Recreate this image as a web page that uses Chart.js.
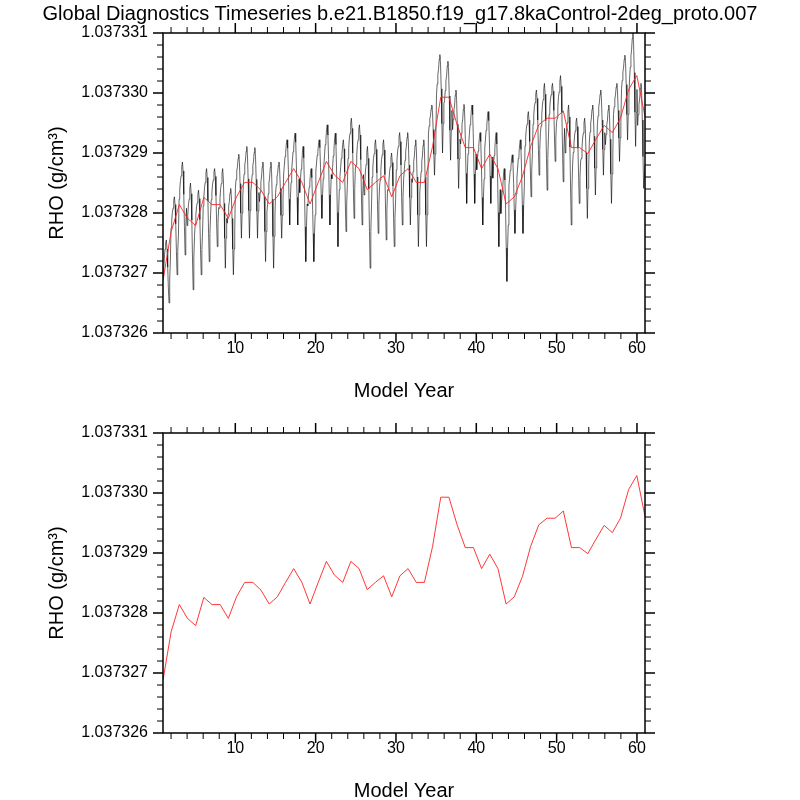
<!DOCTYPE html>
<html>
<head>
<meta charset="utf-8">
<script src="https://cdn.jsdelivr.net/npm/chart.js@4.4.1/dist/chart.umd.min.js"></script>
<style>
  body { margin: 0; background: #fff; }
  #wrap { position: relative; width: 800px; height: 800px; }
  canvas { display: block; }
  #title {
    position: absolute; top: 1px; left: 0; width: 800px;
    text-align: center; white-space: nowrap;
    font: 20px/24px "Liberation Sans", Arial, sans-serif; color: #000;
  }
</style>
</head>
<body>
<div id="wrap">
  <canvas id="topChart" width="800" height="400"></canvas>
  <canvas id="bottomChart" width="800" height="400"></canvas>
  <div id="title"></div>
</div>
<script>

const titleText = 'Global Diagnostics Timeseries b.e21.B1850.f19_g17.8kaControl-2deg_proto.007';

// RHO values are stored as offsets above RHO_BASE, in units of 1e-8 g/cm3
const RHO_BASE = 1.037326;
const RHO_UNIT = 1e-8;

const xTickValues = [10, 20, 30, 40, 50, 60];
const yTickValues = [1.037326, 1.037327, 1.037328, 1.037329, 1.037330, 1.037331];
const yTickLabels = ['1.037326', '1.037327', '1.037328', '1.037329', '1.037330', '1.037331'];

// annual means (red), years 1..60
const annualRho = [
    88, 169, 214, 191, 179, 226, 214, 214, 191, 227,
    251, 251, 238, 215, 227, 251, 274, 251, 215, 251,
    286, 263, 251, 286, 274, 239, 251, 262, 227, 262,
    274, 251, 251, 311, 393, 393, 347, 309, 309, 274,
    298, 274, 215, 227, 261, 311, 347, 358, 358, 370,
    309, 309, 299, 323, 346, 334, 358, 406, 429, 361
];

// monthly values (black), one row per model year
const monthlyRho = [
    [95, 105, 125, 140, 150, 155, 140, 110, 75, 50, 90, 120],
    [175, 188, 201, 208, 221, 227, 214, 182, 136, 97, 136, 162],
    [223, 239, 254, 262, 277, 285, 270, 231, 177, 130, 177, 208],
    [179, 197, 214, 223, 241, 250, 232, 188, 125, 72, 125, 161],
    [182, 196, 210, 217, 231, 238, 224, 189, 139, 97, 139, 168],
    [212, 228, 243, 251, 266, 274, 259, 220, 166, 119, 166, 197],
    [222, 235, 248, 255, 268, 274, 261, 229, 183, 144, 183, 209],
    [208, 224, 241, 249, 266, 274, 257, 216, 158, 108, 158, 191],
    [183, 198, 212, 219, 234, 241, 227, 191, 140, 97, 140, 169],
    [242, 256, 270, 277, 291, 298, 284, 249, 200, 158, 200, 228],
    [250, 265, 280, 288, 303, 311, 296, 257, 204, 158, 204, 235],
    [249, 264, 279, 286, 301, 309, 294, 256, 203, 158, 203, 234],
    [219, 235, 252, 260, 277, 285, 268, 227, 169, 119, 169, 202],
    [214, 232, 250, 258, 276, 285, 267, 223, 161, 108, 161, 197],
    [234, 247, 260, 266, 279, 285, 272, 241, 196, 158, 196, 222],
    [265, 279, 294, 301, 315, 322, 308, 272, 223, 180, 223, 251],
    [272, 287, 302, 310, 325, 333, 318, 279, 226, 180, 226, 257],
    [234, 253, 273, 282, 301, 311, 292, 244, 177, 119, 177, 215],
    [212, 228, 243, 251, 266, 274, 259, 220, 166, 119, 166, 197],
    [270, 283, 296, 302, 315, 322, 309, 276, 230, 191, 230, 257],
    [280, 297, 314, 322, 339, 347, 330, 289, 230, 180, 230, 264],
    [257, 276, 295, 305, 324, 333, 314, 267, 201, 144, 201, 239],
    [261, 276, 291, 299, 314, 322, 307, 268, 215, 169, 215, 246],
    [291, 308, 325, 333, 350, 358, 341, 300, 241, 191, 241, 275],
    [280, 297, 314, 322, 339, 347, 330, 289, 230, 180, 230, 264],
    [230, 250, 270, 281, 301, 311, 291, 240, 169, 108, 169, 210],
    [260, 275, 291, 299, 314, 322, 306, 267, 213, 166, 213, 244],
    [255, 272, 289, 297, 314, 322, 305, 264, 205, 155, 205, 239],
    [238, 253, 269, 277, 292, 300, 284, 245, 191, 144, 191, 222],
    [272, 288, 303, 311, 326, 334, 319, 280, 226, 180, 226, 257],
    [272, 288, 303, 311, 326, 334, 319, 280, 226, 180, 226, 257],
    [251, 269, 286, 295, 313, 322, 304, 260, 197, 144, 197, 233],
    [251, 269, 286, 295, 313, 322, 304, 260, 197, 144, 197, 233],
    [333, 345, 357, 362, 374, 380, 368, 339, 298, 263, 298, 322],
    [398, 415, 431, 439, 456, 464, 448, 407, 349, 300, 349, 382],
    [387, 404, 420, 428, 445, 453, 437, 395, 338, 288, 338, 371],
    [339, 356, 372, 380, 397, 405, 389, 348, 290, 241, 290, 323],
    [315, 332, 348, 356, 373, 381, 365, 323, 266, 216, 266, 299],
    [314, 331, 347, 355, 372, 380, 364, 323, 265, 216, 265, 298],
    [272, 288, 303, 311, 326, 334, 319, 280, 226, 180, 226, 257],
    [308, 323, 338, 346, 361, 369, 354, 315, 262, 216, 262, 293],
    [258, 277, 296, 306, 325, 334, 315, 268, 201, 144, 201, 239],
    [199, 218, 236, 246, 265, 274, 255, 208, 142, 86, 142, 180],
    [245, 258, 271, 277, 290, 297, 284, 251, 205, 166, 205, 232],
    [260, 275, 291, 299, 314, 322, 306, 267, 213, 166, 213, 244],
    [312, 326, 341, 348, 362, 369, 355, 319, 270, 227, 270, 298],
    [348, 362, 377, 384, 398, 405, 391, 355, 306, 263, 306, 334],
    [345, 363, 380, 389, 407, 416, 398, 354, 291, 238, 291, 327],
    [364, 377, 390, 397, 410, 416, 403, 371, 325, 286, 325, 351],
    [358, 376, 394, 402, 420, 429, 411, 367, 305, 252, 305, 341],
    [300, 320, 340, 350, 370, 380, 360, 310, 240, 180, 240, 280],
    [301, 315, 330, 337, 351, 358, 344, 308, 259, 216, 259, 287],
    [291, 308, 325, 333, 350, 358, 341, 300, 241, 191, 241, 275],
    [320, 335, 350, 358, 373, 380, 365, 328, 275, 230, 275, 305],
    [348, 362, 377, 384, 398, 405, 391, 355, 306, 263, 306, 334],
    [314, 331, 347, 355, 372, 380, 364, 323, 265, 216, 265, 298],
    [364, 377, 390, 397, 410, 416, 403, 371, 325, 286, 325, 351],
    [407, 421, 435, 442, 456, 463, 449, 414, 364, 322, 364, 393],
    [424, 443, 462, 472, 491, 500, 481, 434, 368, 311, 368, 406],
    [346, 364, 381, 390, 407, 416, 399, 355, 294, 241, 260, 280]
];

const X_MIN = 1, X_MAX = 61;
const Y_MIN = 1.037326, Y_MAX = 1.037331;

function toPoints(values) {
    const n = values.length;
    return values.map((v, i) => ({
        x: X_MIN + i * (X_MAX - X_MIN) / (n - 1),
        y: RHO_BASE + v * RHO_UNIT
    }));
}

const annualPoints = toPoints(annualRho);
const monthlyPoints = toPoints(monthlyRho.flat());

document.getElementById('title').textContent = titleText;

Chart.defaults.font.family = '"Liberation Sans", Arial, sans-serif';
Chart.defaults.color = '#000';

// NCL style frame with outward major/minor ticks on all four sides
const frameTicks = {
    id: 'frameTicks',
    afterDraw(chart) {
        const {ctx, chartArea: a, scales: {x, y}} = chart;
        ctx.save();
        ctx.strokeStyle = '#000';

        function xTick(v, len, w) {
            const px = x.getPixelForValue(v);
            ctx.lineWidth = w;
            ctx.beginPath();
            ctx.moveTo(px, a.bottom); ctx.lineTo(px, a.bottom + len);
            ctx.moveTo(px, a.top); ctx.lineTo(px, a.top - len);
            ctx.stroke();
        }
        function yTick(v, len, w) {
            const py = y.getPixelForValue(v);
            ctx.lineWidth = w;
            ctx.beginPath();
            ctx.moveTo(a.left, py); ctx.lineTo(a.left - len, py);
            ctx.moveTo(a.right, py); ctx.lineTo(a.right + len, py);
            ctx.stroke();
        }

        for (let v = 2; v < X_MAX; v += 2) {
            if (v % 10 !== 0) xTick(v, 6, 1);
        }
        xTickValues.forEach(v => xTick(v, 10, 1.5));
        for (let k = 1; k < 25; k++) {
            if (k % 5 !== 0) yTick(Y_MIN + k * 2e-7, 6, 1);
        }
        yTickValues.forEach(v => yTick(v, 10, 1.5));

        ctx.lineWidth = 1.5;
        ctx.strokeRect(a.left, a.top, a.right - a.left, a.bottom - a.top);
        ctx.restore();
    }
};

function makePanel(canvasId, datasets) {
    return new Chart(document.getElementById(canvasId), {
        type: 'line',
        data: { datasets: datasets },
        options: {
            responsive: false,
            animation: false,
            devicePixelRatio: 1,
            layout: {
                padding: { top: 33, right: 155, bottom: 0, left: 0 }
            },
            elements: {
                point: { radius: 0 },
                line: { tension: 0 }
            },
            scales: {
                x: {
                    type: 'linear',
                    min: X_MIN,
                    max: X_MAX,
                    grid: { display: false, drawTicks: false },
                    border: { display: false },
                    afterBuildTicks: s => { s.ticks = xTickValues.map(v => ({ value: v })); },
                    afterFit: s => { s.height = 67; },
                    ticks: {
                        padding: 6,
                        maxRotation: 0,
                        font: { size: 16 },
                        callback: v => String(v)
                    },
                    title: {
                        display: true,
                        text: 'Model Year',
                        font: { size: 20 },
                        padding: { top: 0, bottom: -3 }
                    }
                },
                y: {
                    min: Y_MIN,
                    max: Y_MAX,
                    grid: { display: false, drawTicks: false },
                    border: { display: false },
                    afterBuildTicks: s => { s.ticks = yTickValues.map(v => ({ value: v })); },
                    afterFit: s => { s.width = 163; },
                    ticks: {
                        padding: 15,
                        font: { size: 16 },
                        callback: (v, i) => yTickLabels[i]
                    },
                    title: {
                        display: true,
                        text: 'RHO (g/cm³)',
                        font: { size: 20 },
                        padding: { top: 45, bottom: 0 }
                    }
                }
            },
            plugins: {
                legend: { display: false },
                tooltip: { enabled: false },
                title: { display: false }
            }
        },
        plugins: [frameTicks]
    });
}

const redLine = () => ({
    data: annualPoints,
    borderColor: '#ff2020',
    borderWidth: 0.9
});

makePanel('topChart', [
    redLine(),
    { data: monthlyPoints, borderColor: 'rgba(0,0,0,0.75)', borderWidth: 0.8 }
]);

makePanel('bottomChart', [redLine()]);

</script>
</body>
</html>
